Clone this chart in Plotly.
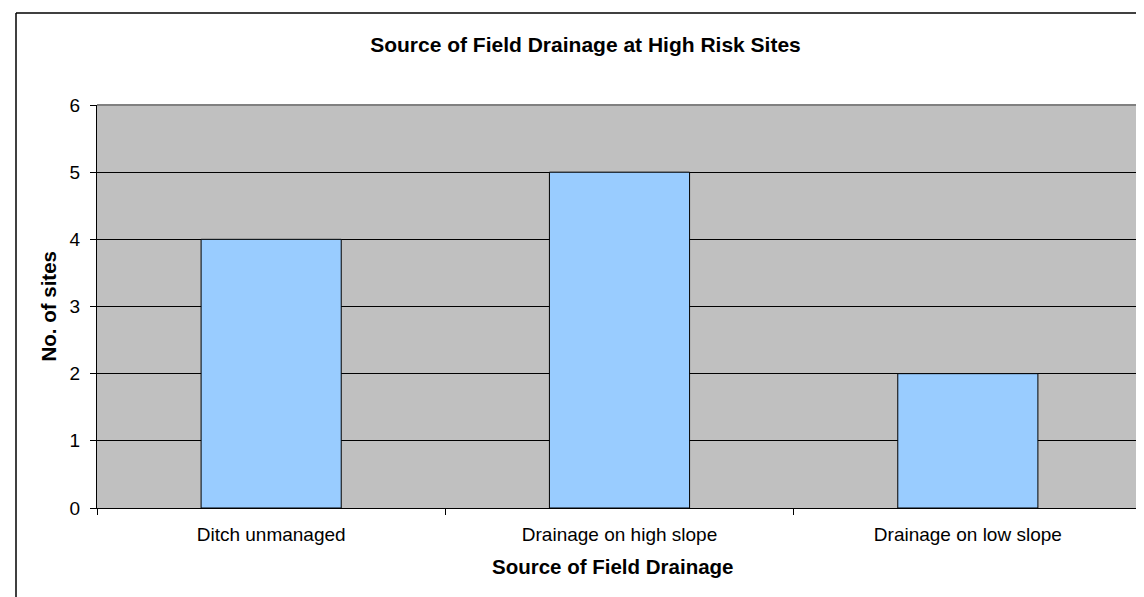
import plotly.graph_objects as go

categories = ["Ditch unmanaged", "Drainage on high slope", "Drainage on low slope"]
sites = [4, 5, 2]
y_ticks = [0, 1, 2, 3, 4, 5, 6]

title_text = "Source of Field Drainage at High Risk Sites"
x_title = "Source of Field Drainage"
y_title = "No. of sites"

FONT = "Liberation Sans, Arial, sans-serif"

fig = go.Figure()
fig.add_trace(go.Bar(
    x=categories, y=sites, width=0.4023,
    marker=dict(color="#99CCFF", line=dict(color="#000000", width=1)),
    hoverinfo="x+y",
))

fig.update_layout(
    width=1144, height=597,
    margin=dict(l=89, r=10, t=97, b=97),
    paper_bgcolor="white", plot_bgcolor="#C0C0C0",
    showlegend=False,
    font=dict(family=FONT, size=19, color="black"),
    title=dict(text="<b>" + title_text + "</b>", xref="container", x=577.5/1144,
               xanchor="center", yref="container", y=1 - 37/597, yanchor="middle",
               font=dict(family=FONT, size=21, color="black")),
    xaxis=dict(type="category", showgrid=False, showline=True, linecolor="black", linewidth=1,
               ticks="outside", tickson="boundaries", ticklen=6, tickcolor="black",
               ticklabelstandoff=9,
               tickfont=dict(family=FONT, size=19, color="black"), zeroline=False),
    yaxis=dict(range=[0, 6], tickvals=y_ticks, showgrid=True, gridcolor="black", gridwidth=1,
               showline=True, linecolor="black", linewidth=1, ticks="outside", ticklen=6,
               ticklabelstandoff=6,
               tickcolor="black", tickfont=dict(family=FONT, size=19, color="black"),
               zeroline=False, fixedrange=True),
    bargap=0.5,
)

# axis titles
fig.add_annotation(text="<b>" + x_title + "</b>", xref="paper", yref="paper",
                   x=(605 - 89) / 1045, y=(500 - 558) / 403, xanchor="center", yanchor="middle",
                   showarrow=False, font=dict(family=FONT, size=20.5, color="black"))
fig.add_annotation(text="<b>" + y_title + "</b>", xref="paper", yref="paper",
                   x=(40 - 89) / 1045, y=0.5, xanchor="center", yanchor="middle", textangle=-90,
                   showarrow=False, font=dict(family=FONT, size=20.5, color="black"))

# plot area border (top and right) in grey
fig.add_shape(type="line", xref="paper", yref="paper", x0=0, x1=1, y0=1, y1=1,
              line=dict(color="#808080", width=2), layer="above")
fig.add_shape(type="line", xref="paper", yref="paper", x0=1, x1=1, y0=0, y1=1,
              line=dict(color="#808080", width=2), layer="above")

# outer chart frame (left and top visible)
fig.add_shape(type="line", xref="paper", yref="paper", x0=(8 - 89) / 1045, x1=(1144 - 89) / 1045,
              y0=(500 - 5) / 403, y1=(500 - 5) / 403, line=dict(color="black", width=1.5))
fig.add_shape(type="line", xref="paper", yref="paper", x0=(8 - 89) / 1045, x1=(8 - 89) / 1045,
              y0=(500 - 5) / 403, y1=(500 - 597) / 403, line=dict(color="black", width=1.5))

fig.write_html("out.html")
